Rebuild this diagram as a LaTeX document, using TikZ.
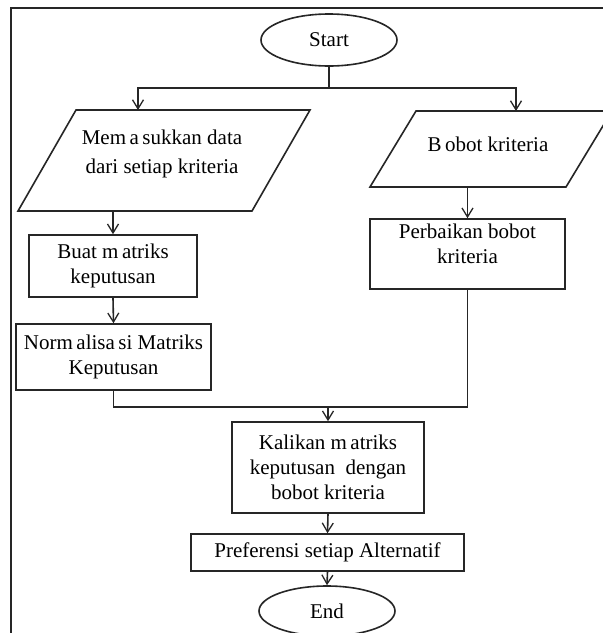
\documentclass[tikz,border=0pt]{standalone}
\usepackage{fontspec}
\setmainfont{Liberation Serif}
\usetikzlibrary{shapes.geometric,arrows.meta}
\begin{document}
\begin{tikzpicture}[x=1pt,y=-1pt,
  line width=1.6pt,
  every node/.style={font=\fontsize{21}{25}\selectfont, align=center, text=black},
  ln/.style={draw=black!85},
  arr/.style={ln, -{Straight Barb[length=9pt,width=11pt,line width=1.3pt]}},
  box/.style={draw=black!85, rectangle, inner sep=0pt},
  term/.style={draw=black!85, ellipse, inner sep=0pt, minimum width=136pt, minimum height=52pt}
]
\useasboundingbox (0,0) rectangle (603,633);
\fill[white] (0,0) rectangle (603,633);
% frame
\draw[ln] (11,640) -- (11,8) -- (610,8);

% terminals
\node[term] (start) at (329,40) {Start};
\node[term, minimum height=50pt] (stop) at (327,611) {End};

% parallelograms (input)
\draw[ln] (76,110) -- (310,110) -- (252,211) -- (18,211) -- cycle;
\node (mem) at (162,153.5) {Mem\,a\,sukkan data\\[4pt]dari setiap kriteria};
\draw[ln] (416,111) -- (612,111) -- (566,187) -- (370,187) -- cycle;
\node (bobot) at (488,144) {B\,obot kriteria};

\coordinate (split) at (329,88);
\coordinate (memtop) at (138,110);
\coordinate (bobtop) at (516,111);
\coordinate (membot) at (113,211);
\coordinate (bobbot) at (467.5,187);

% process boxes
\node[box, minimum width=168pt, minimum height=62pt] (buat) at (113,266) {Buat m\,atriks\\keputusan};
\node[box, minimum width=195pt, minimum height=66pt] (norm) at (113.5,357) {Norm\,alisa\,si Matriks\\Keputusan};
\node[box, minimum width=195pt, minimum height=70pt] (perb) at (467.5,254) {Perbaikan bobot\\kriteria\\[-4pt]};
\node[box, minimum width=192pt, minimum height=91pt] (kali) at (328,467.5) {Kalikan m\,atriks\\keputusan\ \ dengan\\bobot kriteria};
\node[box, minimum width=273pt, minimum height=37pt] (pref) at (327.5,552.5) {Preferensi setiap Alternatif};

\coordinate (mj) at (328,407);

% connectors
\draw[ln] (start.south) -- (split);
\draw[arr] (split) -| (memtop);
\draw[arr] (split) -| (bobtop);
\draw[arr] (membot) -- (buat.north);
\draw[arr] (bobbot) -- (perb.north);
\draw[arr] (buat.south) -- (norm.north);
\draw[ln] (norm.south) |- (mj);
\draw[ln] (perb.south) |- (mj);
\draw[arr] (mj) -- (kali.north);
\draw[arr] (kali.south) -- (pref.north);
\draw[arr] (pref.south) -- (stop.north);
\end{tikzpicture}
\end{document}
